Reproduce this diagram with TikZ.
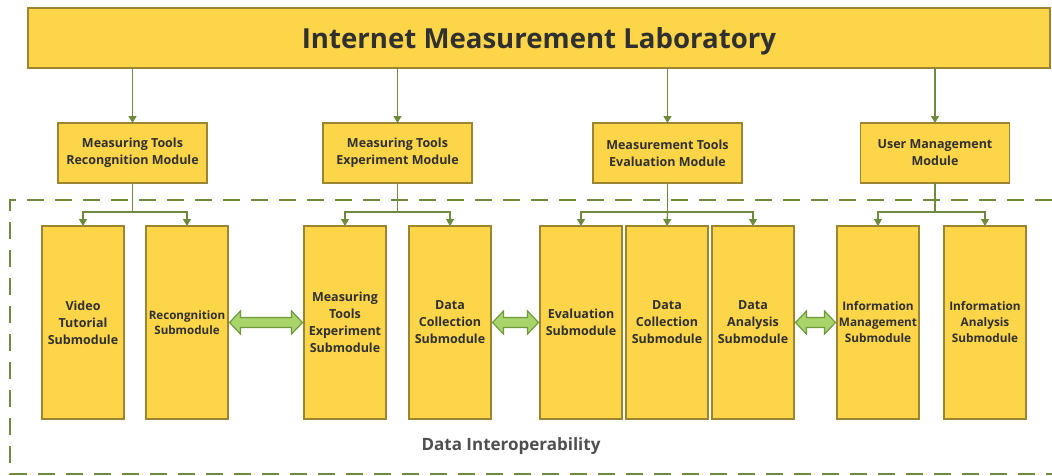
\documentclass[tikz,border=0pt]{standalone}
\usepackage{fontspec}
\setmainfont{Open Sans}
\usetikzlibrary{arrows.meta,calc}
\definecolor{boxfill}{HTML}{FCD548}
\definecolor{boxline}{HTML}{9C8530}
\definecolor{connc}{HTML}{6E8B3D}
\definecolor{dbfill}{HTML}{A9D46A}
\definecolor{dbline}{HTML}{6E9A3F}
\definecolor{txt}{HTML}{303030}
\newcommand{\mydblarrow}[2]{%
  \path (#1.east) ++(1.5,0) coordinate (L) (#2.west) ++(-1.5,0) coordinate (R);
  \draw[dbline,fill=dbfill,line width=1.2pt,line join=miter]
    (L) -- ++(11,-11.5) -- ++(0,6.5) -- ($(R)+(-11,-5)$) -- ++(0,-6.5) -- (R)
    -- ++(-11,11.5) -- ++(0,-6.5) -- ($(L)+(11,5)$) -- ++(0,6.5) -- cycle;}
\begin{document}
\begin{tikzpicture}[x=1pt,y=-1pt,
  box/.style={draw=boxline,fill=boxfill,line width=1.8pt,inner sep=0pt,outer sep=0pt,align=center,text=txt},
  modbox/.style={box,minimum width=149pt,minimum height=60pt,font=\fontsize{12.5}{17}\selectfont\bfseries},
  subbox/.style={box,minimum width=82pt,minimum height=193pt,font=\fontsize{12.5}{17}\selectfont\bfseries},
  smallsub/.style={font=\fontsize{11.8}{16}\selectfont\bfseries},
  conn/.style={draw=connc,line width=1.2pt},
  tip/.style={conn,-{Triangle[width=8pt,length=7pt]}},
  dashbox/.style={draw=connc,line width=1.8pt,dash pattern=on 17pt off 11pt},
]
\useasboundingbox (0,0) rectangle (1052,475);

% dashed region
\draw[dashbox] (1052,200) -- (10,200) -- (10,474) -- (1052,474);

% top
\node[box,minimum width=1022pt,minimum height=60pt,text depth=0pt,font=\fontsize{27.6}{32}\selectfont\bfseries] (top) at (539,38) {Internet Measurement Laboratory};

% modules
\node[modbox] (m1) at (132.5,153) {Measuring Tools\\Recongnition Module};
\node[modbox] (m2) at (397.5,153) {Measuring Tools\\Experiment Module};
\node[modbox] (m3) at (667.5,153) {Measurement Tools\\Evaluation Module};
\node[modbox] (m4) at (935,153) {User Management\\Module};

% submodules
\node[subbox] (s1) at (83,322.5) {Video\\Tutorial\\Submodule};
\node[subbox,font=\fontsize{11.6}{15.5}\selectfont\bfseries] (s2) at (187,322.5) {Recongnition\\Submodule};
\node[subbox] (s3) at (345,322.5) {Measuring\\Tools\\Experiment\\Submodule};
\node[subbox] (s4) at (450,322.5) {Data\\Collection\\Submodule};
\node[subbox] (s5) at (581,322.5) {Evaluation\\Submodule};
\node[subbox] (s6) at (667,322.5) {Data\\Collection\\Submodule};
\node[subbox] (s7) at (753,322.5) {Data\\Analysis\\Submodule};
\node[subbox,smallsub] (s8) at (878,322.5) {Information\\Management\\Submodule};
\node[subbox,smallsub] (s9) at (985,322.5) {Information\\Analysis\\Submodule};

% top arrows
\foreach \m in {m1,m2,m3,m4} \draw[tip] (top.south -| \m.north) -- (\m.north);

% branches
\foreach \m in {m1,m2,m3,m4} \path (\m.south) ++(0,29) coordinate (b\m);
\draw[conn] (m1.south) -- (bm1);
\draw[tip] (bm1) -| (s1.north);
\draw[tip] (bm1) -| (s2.north);
\draw[conn] (m2.south) -- (bm2);
\draw[tip] (bm2) -| (s3.north);
\draw[tip] (bm2) -| (s4.north);
\draw[conn] (m3.south) -- (bm3);
\draw[tip] (bm3) -| (s5.north);
\draw[tip] (bm3) -- (s6.north);
\draw[tip] (bm3) -| (s7.north);
\draw[conn] (m4.south) -- (bm4);
\draw[tip] (bm4) -| (s8.north);
\draw[tip] (bm4) -| (s9.north);

% double arrows
\mydblarrow{s2}{s3}
\mydblarrow{s4}{s5}
\mydblarrow{s7}{s8}

% label
\node[font=\fontsize{17}{20}\selectfont\bfseries,text=txt!85] (di) at (511,446) {Data Interoperability};
\end{tikzpicture}
\end{document}
